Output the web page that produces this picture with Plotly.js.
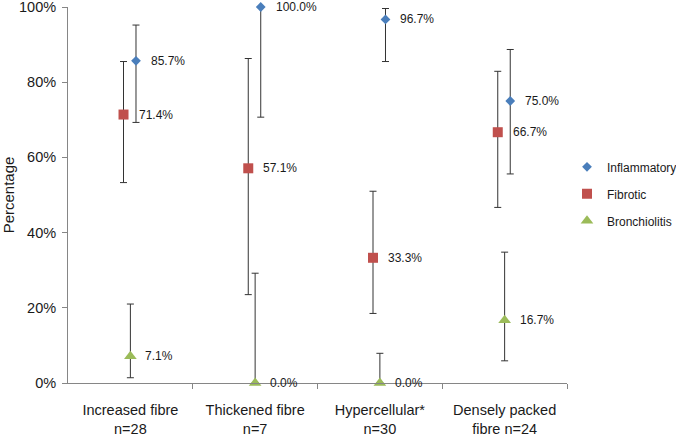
<!DOCTYPE html>
<html>
<head>
<meta charset="utf-8">
<script src="https://cdn.plot.ly/plotly-3.0.1.min.js"></script>
<style>html,body{margin:0;padding:0;background:#fff;}#chart{width:676px;height:436px;}</style>
</head>
<body>
<div id="chart"></div>
<script>
// ---- data ----
const categories = ['Increased fibre<br>n=28', 'Thickened fibre<br>n=7', 'Hypercellular*<br>n=30', 'Densely packed<br>fibre n=24'];
const seriesNames = ['Inflammatory', 'Fibrotic', 'Bronchiolitis'];
const inflammatory = [85.7, 100.0, 96.7, 75.0];
const inflammatoryHi = [95.2, 100.0, 99.6, 88.7];
const inflammatoryLo = [69.3, 70.7, 85.5, 55.6];
const fibrotic = [71.4, 57.1, 33.3, 66.7];
const fibroticHi = [85.5, 86.3, 51.0, 82.9];
const fibroticLo = [53.3, 23.5, 18.5, 46.7];
const bronchiolitis = [7.1, 0.0, 0.0, 16.7];
const bronchiolitisHi = [21.0, 29.2, 7.9, 34.8];
const bronchiolitisLo = [1.4, 0.0, 0.0, 5.9];
const yTicks = [0, 20, 40, 60, 80, 100];

// ---- styles ----
const FONT = 'Liberation Sans, Arial, sans-serif';
const styles = [
  {color: '#4A7EBB', symbol: 'diamond', size: 7.5, dx: 0.045},
  {color: '#C0504D', symbol: 'square', size: 10, dx: -0.055},
  {color: '#9BBB59', symbol: 'triangle-up', size: 11, dx: 0.0}
];
const vals = [inflammatory, fibrotic, bronchiolitis];
const his = [inflammatoryHi, fibroticHi, bronchiolitisHi];
const los = [inflammatoryLo, fibroticLo, bronchiolitisLo];

const idx = categories.map((c, i) => i);
const traces = vals.map((v, s) => ({
  type: 'scatter', mode: 'markers', name: seriesNames[s],
  legendgroup: 'g' + s,
  x: idx.map(i => i + styles[s].dx), y: v,
  marker: {color: styles[s].color, symbol: styles[s].symbol, size: styles[s].size},
  error_y: {type: 'data', symmetric: false,
    array: v.map((y, i) => his[s][i] - y),
    arrayminus: v.map((y, i) => y - los[s][i]),
    color: '#333333', thickness: 1, width: 3.5},
  cliponaxis: false
}));

const annotations = [];
vals.forEach((v, s) => v.forEach((y, i) => {
  annotations.push({x: i + styles[s].dx, y: y, xref: 'x', yref: 'y',
    text: y.toFixed(1) + '%', showarrow: false, xanchor: 'left', yanchor: 'middle',
    xshift: 13, font: {family: FONT, size: 12, color: '#1a1a1a'}});
}));

const layout = {
  width: 676, height: 436,
  margin: {l: 68, r: 109, t: 7, b: 53, autoexpand: false},
  paper_bgcolor: '#fff', plot_bgcolor: '#fff',
  font: {family: FONT, size: 14, color: '#1a1a1a'},
  showlegend: true,
  legend: {x: 1.0, y: 0.503, xanchor: 'left', yanchor: 'middle', bgcolor: 'rgba(0,0,0,0)',
    font: {family: FONT, size: 12, color: '#1a1a1a'}, tracegroupgap: 8, itemwidth: 30},
  xaxis: {range: [-0.5, 3.5], tickvals: idx, ticktext: categories, ticks: '',
    showline: true, linecolor: '#868686', linewidth: 1, showgrid: false, zeroline: false,
    tickfont: {family: FONT, size: 14.5, color: '#1a1a1a'}, ticklabelstandoff: 14,
    ticklabeloverflow: 'allow',
    minor: {tickvals: [0.5, 1.5, 2.5, 3.5], ticks: 'outside', ticklen: 5, tickcolor: '#868686', showgrid: false},
    fixedrange: true},
  yaxis: {range: [0, 100], tickvals: yTicks, ticktext: yTicks.map(t => t + '%'),
    ticks: 'outside', ticklen: 5, tickcolor: '#868686',
    showline: true, linecolor: '#868686', linewidth: 1, showgrid: false, zeroline: false,
    tickfont: {family: FONT, size: 14.5, color: '#1a1a1a'}, ticklabelstandoff: 3,
    ticklabeloverflow: 'allow',
    title: {text: 'Percentage', font: {family: FONT, size: 15, color: '#1a1a1a'}, standoff: 8},
    fixedrange: true},
  annotations: annotations
};

Plotly.newPlot('chart', traces, layout, {displayModeBar: false, staticPlot: true});
</script>
</body>
</html>
